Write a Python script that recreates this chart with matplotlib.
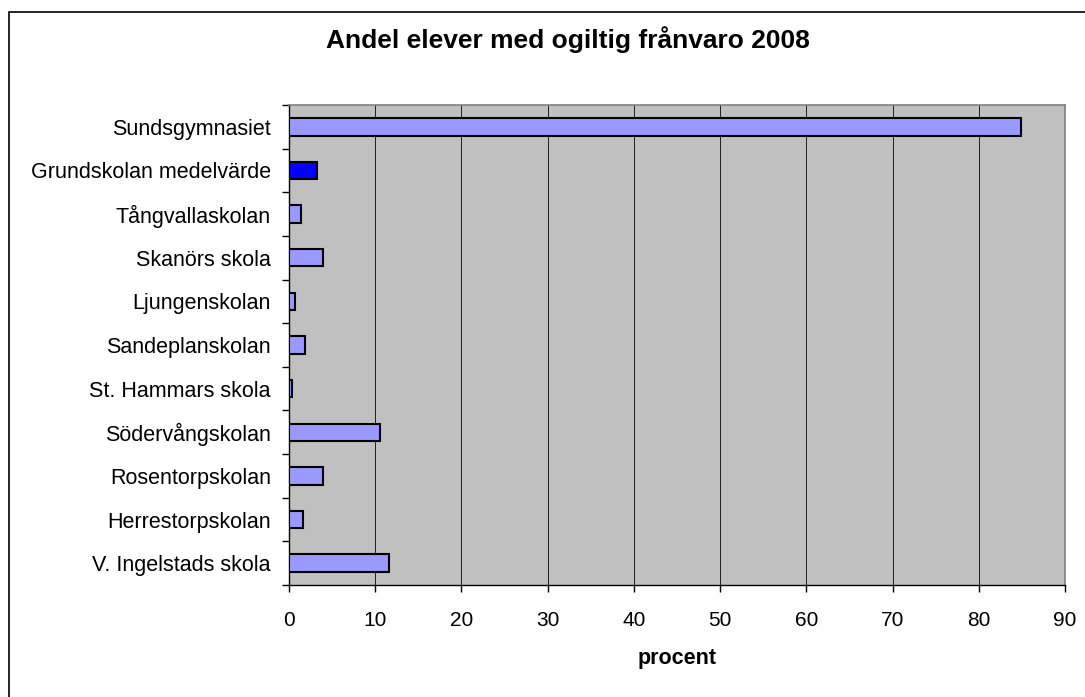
import matplotlib.pyplot as plt
import numpy as np
from matplotlib.patches import Rectangle

plt.rcParams['font.family'] = ['Liberation Sans', 'DejaVu Sans']

# Data (top to bottom)
schools = ["Sundsgymnasiet", "Grundskolan medelvärde", "Tångvallaskolan",
           "Skanörs skola", "Ljungenskolan", "Sandeplanskolan",
           "St. Hammars skola", "Södervångskolan", "Rosentorpskolan",
           "Herrestorpskolan", "V. Ingelstads skola"]
percent = [84.9, 3.3, 1.4, 3.9, 0.7, 1.8, 0.4, 10.5, 3.9, 1.6, 11.6]
highlight = "Grundskolan medelvärde"

fig = plt.figure(figsize=(10.85, 6.97), dpi=100)
ax = fig.add_axes([0.2664, 0.1607, 0.7152, 0.6887])

# outer chart frame
fig.patches.append(Rectangle((9 / 1085, -0.1), 1.2, 1.1 - 12 / 697, transform=fig.transFigure,
                             fill=False, edgecolor="black", linewidth=1.2))

y = np.arange(len(schools))[::-1]
colors = ["#0000ff" if s == highlight else "#9999ff" for s in schools]
ax.barh(y, percent, height=0.4, color=colors, edgecolor="black", linewidth=1.5, zorder=3)

ax.set_xlim(0, 90)
ax.set_ylim(-0.5, len(schools) - 0.5)
ax.set_xticks(np.arange(0, 91, 10))
ax.set_yticks(y)
ax.set_yticklabels(schools)
ax.set_yticks(np.arange(-0.5, len(schools), 1), minor=True)
ax.tick_params(axis="y", which="major", length=0, pad=13, labelsize=15.5)
ax.tick_params(axis="y", which="minor", length=5, width=1, direction="out")
ax.tick_params(axis="x", length=5, width=1, direction="out", pad=14, labelsize=15)

ax.set_facecolor("#c0c0c0")
ax.grid(axis="x", color="#202020", linewidth=0.7, zorder=0)
for side in ["top", "right"]:
    ax.spines[side].set_color("#808080")
    ax.spines[side].set_linewidth(1.2)
for side in ["left", "bottom"]:
    ax.spines[side].set_color("black")
    ax.spines[side].set_linewidth(1.0)

ax.set_xlabel("procent", fontweight="bold", fontsize=15.5, labelpad=13)
fig.text(0.523, 1 - 40 / 697, "Andel elever med ogiltig frånvaro 2008",
         ha="center", va="center", fontsize=19, fontweight="bold")

fig.savefig("out.png", dpi=100)
